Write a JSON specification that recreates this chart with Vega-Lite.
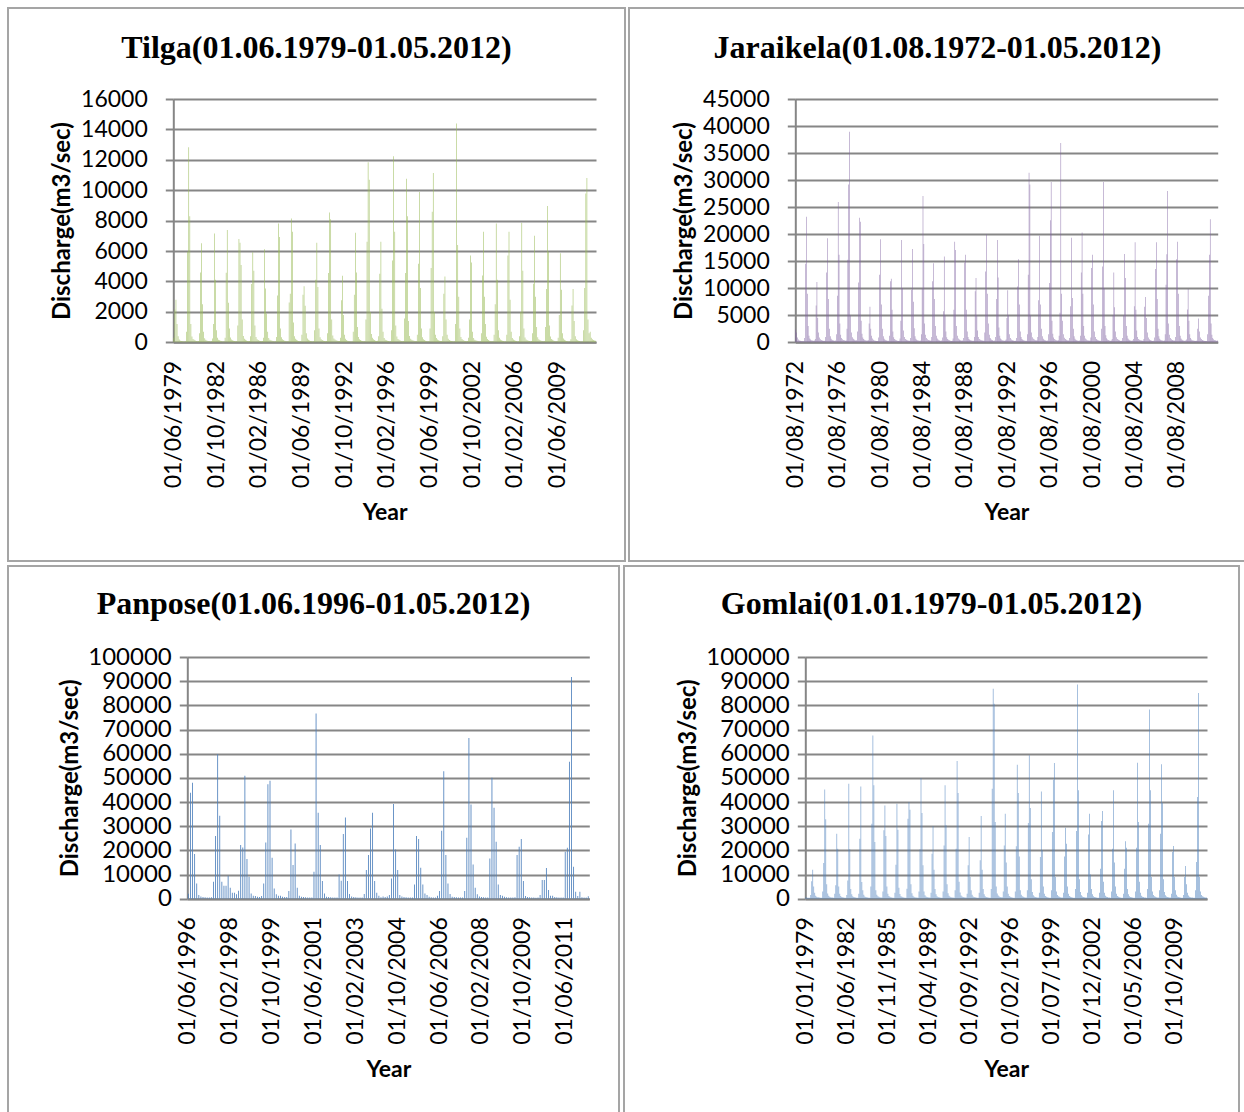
{
  "$schema": "https://vega.github.io/schema/vega-lite/v6.json",
  "background": "white",
  "padding": {"left": 7, "top": 7, "right": 0, "bottom": 0},
  "spacing": 3,
  "config": {
    "view": {"stroke": "#a5a5a5", "strokeWidth": 2},
    "title": {"font": "Liberation Serif", "fontSize": 32, "fontWeight": "bold", "color": "#000000", "anchor": "middle", "baseline": "middle", "offset": -57},
    "axis": {"labelFont": "Lato", "labelFontSize": 23, "labelColor": "#000000", "titleFont": "Lato", "titleFontSize": 23, "titleFontWeight": "bold", "titleColor": "#000000", "domainColor": "#868686", "domainWidth": 2, "tickColor": "#868686", "tickWidth": 2, "gridColor": "#868686", "gridWidth": 2, "labelOverlap": false, "labelBound": false, "labelFlush": false},
    "axisX": {"labelAngle": -90, "labelAlign": "right", "labelBaseline": "middle", "ticks": false, "grid": false, "labelPadding": 18, "titlePadding": 14},
    "axisY": {"tickSize": 8, "labelPadding": 18, "titlePadding": 6, "grid": true, "format": "d", "titleFontSize": 24}
  },
  "datasets": {
    "tilga": [
      {"d":"1979-06","q":300},{"d":"1979-07","q":2150},{"d":"1979-08","q":2800},{"d":"1979-09","q":1200},{"d":"1979-10","q":400},{"d":"1979-11","q":180},{"d":"1979-12","q":110},{"d":"1980-01","q":90},{"d":"1980-02","q":70},{"d":"1980-03","q":60},{"d":"1980-04","q":50},{"d":"1980-05","q":70},
      {"d":"1980-06","q":700},{"d":"1980-07","q":5960},{"d":"1980-08","q":12820},{"d":"1980-09","q":8290},{"d":"1980-10","q":1200},{"d":"1980-11","q":380},{"d":"1980-12","q":220},{"d":"1981-01","q":160},{"d":"1981-02","q":120},{"d":"1981-03","q":90},{"d":"1981-04","q":70},{"d":"1981-05","q":90},
      {"d":"1981-06","q":600},{"d":"1981-07","q":4590},{"d":"1981-08","q":6510},{"d":"1981-09","q":2500},{"d":"1981-10","q":700},{"d":"1981-11","q":260},{"d":"1981-12","q":160},{"d":"1982-01","q":120},{"d":"1982-02","q":90},{"d":"1982-03","q":80},{"d":"1982-04","q":60},{"d":"1982-05","q":80},
      {"d":"1982-06","q":250},{"d":"1982-07","q":1200},{"d":"1982-08","q":7160},{"d":"1982-09","q":4110},{"d":"1982-10","q":800},{"d":"1982-11","q":300},{"d":"1982-12","q":170},{"d":"1983-01","q":130},{"d":"1983-02","q":100},{"d":"1983-03","q":80},{"d":"1983-04","q":60},{"d":"1983-05","q":70},
      {"d":"1983-06","q":300},{"d":"1983-07","q":4570},{"d":"1983-08","q":7380},{"d":"1983-09","q":2600},{"d":"1983-10","q":900},{"d":"1983-11","q":320},{"d":"1983-12","q":190},{"d":"1984-01","q":140},{"d":"1984-02","q":100},{"d":"1984-03","q":80},{"d":"1984-04","q":70},{"d":"1984-05","q":90},
      {"d":"1984-06","q":1100},{"d":"1984-07","q":6790},{"d":"1984-08","q":6550},{"d":"1984-09","q":5090},{"d":"1984-10","q":1500},{"d":"1984-11","q":420},{"d":"1984-12","q":230},{"d":"1985-01","q":160},{"d":"1985-02","q":120},{"d":"1985-03","q":90},{"d":"1985-04","q":70},{"d":"1985-05","q":80},
      {"d":"1985-06","q":400},{"d":"1985-07","q":3830},{"d":"1985-08","q":5920},{"d":"1985-09","q":4700},{"d":"1985-10","q":1100},{"d":"1985-11","q":350},{"d":"1985-12","q":200},{"d":"1986-01","q":150},{"d":"1986-02","q":110},{"d":"1986-03","q":90},{"d":"1986-04","q":70},{"d":"1986-05","q":80},
      {"d":"1986-06","q":300},{"d":"1986-07","q":6120},{"d":"1986-08","q":3530},{"d":"1986-09","q":1900},{"d":"1986-10","q":700},{"d":"1986-11","q":280},{"d":"1986-12","q":170},{"d":"1987-01","q":130},{"d":"1987-02","q":100},{"d":"1987-03","q":80},{"d":"1987-04","q":60},{"d":"1987-05","q":70},
      {"d":"1987-06","q":350},{"d":"1987-07","q":3070},{"d":"1987-08","q":7810},{"d":"1987-09","q":6920},{"d":"1987-10","q":900},{"d":"1987-11","q":330},{"d":"1987-12","q":200},{"d":"1988-01","q":150},{"d":"1988-02","q":110},{"d":"1988-03","q":90},{"d":"1988-04","q":70},{"d":"1988-05","q":90},
      {"d":"1988-06","q":2610},{"d":"1988-07","q":3200},{"d":"1988-08","q":8140},{"d":"1988-09","q":7270},{"d":"1988-10","q":1300},{"d":"1988-11","q":400},{"d":"1988-12","q":230},{"d":"1989-01","q":170},{"d":"1989-02","q":120},{"d":"1989-03","q":90},{"d":"1989-04","q":70},{"d":"1989-05","q":80},
      {"d":"1989-06","q":500},{"d":"1989-07","q":3130},{"d":"1989-08","q":3680},{"d":"1989-09","q":2400},{"d":"1989-10","q":600},{"d":"1989-11","q":250},{"d":"1989-12","q":160},{"d":"1990-01","q":120},{"d":"1990-02","q":90},{"d":"1990-03","q":70},{"d":"1990-04","q":60},{"d":"1990-05","q":70},
      {"d":"1990-06","q":800},{"d":"1990-07","q":4110},{"d":"1990-08","q":6550},{"d":"1990-09","q":3630},{"d":"1990-10","q":900},{"d":"1990-11","q":330},{"d":"1990-12","q":200},{"d":"1991-01","q":150},{"d":"1991-02","q":110},{"d":"1991-03","q":90},{"d":"1991-04","q":70},{"d":"1991-05","q":80},
      {"d":"1991-06","q":600},{"d":"1991-07","q":4550},{"d":"1991-08","q":8530},{"d":"1991-09","q":8090},{"d":"1991-10","q":1500},{"d":"1991-11","q":450},{"d":"1991-12","q":250},{"d":"1992-01","q":180},{"d":"1992-02","q":130},{"d":"1992-03","q":100},{"d":"1992-04","q":80},{"d":"1992-05","q":90},
      {"d":"1992-06","q":300},{"d":"1992-07","q":2760},{"d":"1992-08","q":4370},{"d":"1992-09","q":1800},{"d":"1992-10","q":500},{"d":"1992-11","q":230},{"d":"1992-12","q":150},{"d":"1993-01","q":110},{"d":"1993-02","q":90},{"d":"1993-03","q":70},{"d":"1993-04","q":60},{"d":"1993-05","q":70},
      {"d":"1993-06","q":700},{"d":"1993-07","q":3130},{"d":"1993-08","q":7200},{"d":"1993-09","q":4590},{"d":"1993-10","q":1000},{"d":"1993-11","q":350},{"d":"1993-12","q":200},{"d":"1994-01","q":150},{"d":"1994-02","q":110},{"d":"1994-03","q":90},{"d":"1994-04","q":70},{"d":"1994-05","q":90},
      {"d":"1994-06","q":1500},{"d":"1994-07","q":6620},{"d":"1994-08","q":11840},{"d":"1994-09","q":10690},{"d":"1994-10","q":2000},{"d":"1994-11","q":550},{"d":"1994-12","q":300},{"d":"1995-01","q":200},{"d":"1995-02","q":150},{"d":"1995-03","q":110},{"d":"1995-04","q":90},{"d":"1995-05","q":100},
      {"d":"1995-06","q":400},{"d":"1995-07","q":4500},{"d":"1995-08","q":6620},{"d":"1995-09","q":2200},{"d":"1995-10","q":700},{"d":"1995-11","q":280},{"d":"1995-12","q":170},{"d":"1996-01","q":130},{"d":"1996-02","q":100},{"d":"1996-03","q":80},{"d":"1996-04","q":60},{"d":"1996-05","q":70},
      {"d":"1996-06","q":800},{"d":"1996-07","q":5380},{"d":"1996-08","q":12230},{"d":"1996-09","q":7270},{"d":"1996-10","q":1100},{"d":"1996-11","q":380},{"d":"1996-12","q":220},{"d":"1997-01","q":160},{"d":"1997-02","q":120},{"d":"1997-03","q":90},{"d":"1997-04","q":70},{"d":"1997-05","q":90},
      {"d":"1997-06","q":1570},{"d":"1997-07","q":4550},{"d":"1997-08","q":10750},{"d":"1997-09","q":8290},{"d":"1997-10","q":1400},{"d":"1997-11","q":420},{"d":"1997-12","q":240},{"d":"1998-01","q":170},{"d":"1998-02","q":130},{"d":"1998-03","q":100},{"d":"1998-04","q":80},{"d":"1998-05","q":90},
      {"d":"1998-06","q":500},{"d":"1998-07","q":5160},{"d":"1998-08","q":9880},{"d":"1998-09","q":3570},{"d":"1998-10","q":900},{"d":"1998-11","q":330},{"d":"1998-12","q":200},{"d":"1999-01","q":150},{"d":"1999-02","q":110},{"d":"1999-03","q":90},{"d":"1999-04","q":70},{"d":"1999-05","q":80},
      {"d":"1999-06","q":900},{"d":"1999-07","q":4880},{"d":"1999-08","q":8580},{"d":"1999-09","q":11140},{"d":"1999-10","q":2000},{"d":"1999-11","q":500},{"d":"1999-12","q":280},{"d":"2000-01","q":190},{"d":"2000-02","q":140},{"d":"2000-03","q":100},{"d":"2000-04","q":80},{"d":"2000-05","q":90},
      {"d":"2000-06","q":400},{"d":"2000-07","q":3200},{"d":"2000-08","q":4330},{"d":"2000-09","q":1500},{"d":"2000-10","q":500},{"d":"2000-11","q":240},{"d":"2000-12","q":150},{"d":"2001-01","q":110},{"d":"2001-02","q":90},{"d":"2001-03","q":70},{"d":"2001-04","q":60},{"d":"2001-05","q":70},
      {"d":"2001-06","q":1200},{"d":"2001-07","q":14390},{"d":"2001-08","q":6400},{"d":"2001-09","q":3000},{"d":"2001-10","q":900},{"d":"2001-11","q":350},{"d":"2001-12","q":210},{"d":"2002-01","q":150},{"d":"2002-02","q":110},{"d":"2002-03","q":90},{"d":"2002-04","q":70},{"d":"2002-05","q":80},
      {"d":"2002-06","q":300},{"d":"2002-07","q":1500},{"d":"2002-08","q":5700},{"d":"2002-09","q":5240},{"d":"2002-10","q":700},{"d":"2002-11","q":280},{"d":"2002-12","q":170},{"d":"2003-01","q":130},{"d":"2003-02","q":100},{"d":"2003-03","q":80},{"d":"2003-04","q":60},{"d":"2003-05","q":70},
      {"d":"2003-06","q":600},{"d":"2003-07","q":4400},{"d":"2003-08","q":7270},{"d":"2003-09","q":3000},{"d":"2003-10","q":1200},{"d":"2003-11","q":360},{"d":"2003-12","q":210},{"d":"2004-01","q":150},{"d":"2004-02","q":110},{"d":"2004-03","q":90},{"d":"2004-04","q":70},{"d":"2004-05","q":80},
      {"d":"2004-06","q":500},{"d":"2004-07","q":2500},{"d":"2004-08","q":7810},{"d":"2004-09","q":4110},{"d":"2004-10","q":800},{"d":"2004-11","q":300},{"d":"2004-12","q":180},{"d":"2005-01","q":130},{"d":"2005-02","q":100},{"d":"2005-03","q":80},{"d":"2005-04","q":60},{"d":"2005-05","q":70},
      {"d":"2005-06","q":500},{"d":"2005-07","q":5700},{"d":"2005-08","q":7270},{"d":"2005-09","q":2800},{"d":"2005-10","q":700},{"d":"2005-11","q":290},{"d":"2005-12","q":180},{"d":"2006-01","q":130},{"d":"2006-02","q":100},{"d":"2006-03","q":80},{"d":"2006-04","q":60},{"d":"2006-05","q":70},
      {"d":"2006-06","q":400},{"d":"2006-07","q":2000},{"d":"2006-08","q":7860},{"d":"2006-09","q":4700},{"d":"2006-10","q":900},{"d":"2006-11","q":320},{"d":"2006-12","q":190},{"d":"2007-01","q":140},{"d":"2007-02","q":100},{"d":"2007-03","q":80},{"d":"2007-04","q":60},{"d":"2007-05","q":80},
      {"d":"2007-06","q":600},{"d":"2007-07","q":3850},{"d":"2007-08","q":7010},{"d":"2007-09","q":3000},{"d":"2007-10","q":1000},{"d":"2007-11","q":340},{"d":"2007-12","q":200},{"d":"2008-01","q":150},{"d":"2008-02","q":110},{"d":"2008-03","q":90},{"d":"2008-04","q":70},{"d":"2008-05","q":80},
      {"d":"2008-06","q":1000},{"d":"2008-07","q":3500},{"d":"2008-08","q":8970},{"d":"2008-09","q":5960},{"d":"2008-10","q":1100},{"d":"2008-11","q":380},{"d":"2008-12","q":220},{"d":"2009-01","q":160},{"d":"2009-02","q":120},{"d":"2009-03","q":90},{"d":"2009-04","q":70},{"d":"2009-05","q":80},
      {"d":"2009-06","q":300},{"d":"2009-07","q":1800},{"d":"2009-08","q":5860},{"d":"2009-09","q":3460},{"d":"2009-10","q":600},{"d":"2009-11","q":250},{"d":"2009-12","q":160},{"d":"2010-01","q":120},{"d":"2010-02","q":90},{"d":"2010-03","q":70},{"d":"2010-04","q":60},{"d":"2010-05","q":70},
      {"d":"2010-06","q":200},{"d":"2010-07","q":2420},{"d":"2010-08","q":3510},{"d":"2010-09","q":1400},{"d":"2010-10","q":400},{"d":"2010-11","q":200},{"d":"2010-12","q":130},{"d":"2011-01","q":100},{"d":"2011-02","q":80},{"d":"2011-03","q":60},{"d":"2011-04","q":50},{"d":"2011-05","q":60},
      {"d":"2011-06","q":800},{"d":"2011-07","q":3570},{"d":"2011-08","q":9780},{"d":"2011-09","q":10800},{"d":"2011-10","q":1500},{"d":"2011-11","q":600},{"d":"2011-12","q":700},{"d":"2012-01","q":300},{"d":"2012-02","q":200},{"d":"2012-03","q":150},{"d":"2012-04","q":120},{"d":"2012-05","q":100}
    ],
    "jaraikela": [
      {"d":"1972-08","q":2390},{"d":"1972-09","q":1800},{"d":"1972-10","q":900},{"d":"1972-11","q":500},{"d":"1972-12","q":350},{"d":"1973-01","q":280},{"d":"1973-02","q":230},{"d":"1973-03","q":200},{"d":"1973-04","q":180},{"d":"1973-05","q":200},
      {"d":"1973-06","q":800},{"d":"1973-07","q":14510},{"d":"1973-08","q":23200},{"d":"1973-09","q":9000},{"d":"1973-10","q":3000},{"d":"1973-11","q":1200},{"d":"1973-12","q":700},{"d":"1974-01","q":500},{"d":"1974-02","q":400},{"d":"1974-03","q":350},{"d":"1974-04","q":300},{"d":"1974-05","q":350},
      {"d":"1974-06","q":600},{"d":"1974-07","q":6800},{"d":"1974-08","q":11150},{"d":"1974-09","q":4500},{"d":"1974-10","q":1800},{"d":"1974-11","q":900},{"d":"1974-12","q":550},{"d":"1975-01","q":420},{"d":"1975-02","q":350},{"d":"1975-03","q":300},{"d":"1975-04","q":260},{"d":"1975-05","q":300},
      {"d":"1975-06","q":1000},{"d":"1975-07","q":12920},{"d":"1975-08","q":19230},{"d":"1975-09","q":8000},{"d":"1975-10","q":2500},{"d":"1975-11","q":1100},{"d":"1975-12","q":650},{"d":"1976-01","q":480},{"d":"1976-02","q":380},{"d":"1976-03","q":320},{"d":"1976-04","q":280},{"d":"1976-05","q":320},
      {"d":"1976-06","q":1500},{"d":"1976-07","q":8630},{"d":"1976-08","q":25960},{"d":"1976-09","q":16170},{"d":"1976-10","q":3500},{"d":"1976-11","q":1400},{"d":"1976-12","q":800},{"d":"1977-01","q":560},{"d":"1977-02","q":440},{"d":"1977-03","q":360},{"d":"1977-04","q":300},{"d":"1977-05","q":350},
      {"d":"1977-06","q":2500},{"d":"1977-07","q":15250},{"d":"1977-08","q":29200},{"d":"1977-09","q":38940},{"d":"1977-10","q":5000},{"d":"1977-11","q":1800},{"d":"1977-12","q":950},{"d":"1978-01","q":650},{"d":"1978-02","q":500},{"d":"1978-03","q":400},{"d":"1978-04","q":340},{"d":"1978-05","q":400},
      {"d":"1978-06","q":2000},{"d":"1978-07","q":11080},{"d":"1978-08","q":23020},{"d":"1978-09","q":22290},{"d":"1978-10","q":4000},{"d":"1978-11","q":1600},{"d":"1978-12","q":900},{"d":"1979-01","q":620},{"d":"1979-02","q":480},{"d":"1979-03","q":380},{"d":"1979-04","q":320},{"d":"1979-05","q":350},
      {"d":"1979-06","q":400},{"d":"1979-07","q":3500},{"d":"1979-08","q":6560},{"d":"1979-09","q":2500},{"d":"1979-10","q":1200},{"d":"1979-11","q":700},{"d":"1979-12","q":450},{"d":"1980-01","q":350},{"d":"1980-02","q":300},{"d":"1980-03","q":250},{"d":"1980-04","q":220},{"d":"1980-05","q":250},
      {"d":"1980-06","q":900},{"d":"1980-07","q":12490},{"d":"1980-08","q":19050},{"d":"1980-09","q":7000},{"d":"1980-10","q":2500},{"d":"1980-11","q":1100},{"d":"1980-12","q":650},{"d":"1981-01","q":480},{"d":"1981-02","q":380},{"d":"1981-03","q":320},{"d":"1981-04","q":280},{"d":"1981-05","q":300},
      {"d":"1981-06","q":1200},{"d":"1981-07","q":11270},{"d":"1981-08","q":11760},{"d":"1981-09","q":6000},{"d":"1981-10","q":2000},{"d":"1981-11","q":950},{"d":"1981-12","q":600},{"d":"1982-01","q":450},{"d":"1982-02","q":360},{"d":"1982-03","q":300},{"d":"1982-04","q":260},{"d":"1982-05","q":300},
      {"d":"1982-06","q":700},{"d":"1982-07","q":4000},{"d":"1982-08","q":18920},{"d":"1982-09","q":10050},{"d":"1982-10","q":2200},{"d":"1982-11","q":1000},{"d":"1982-12","q":620},{"d":"1983-01","q":460},{"d":"1983-02","q":370},{"d":"1983-03","q":310},{"d":"1983-04","q":270},{"d":"1983-05","q":300},
      {"d":"1983-06","q":800},{"d":"1983-07","q":9740},{"d":"1983-08","q":17270},{"d":"1983-09","q":7500},{"d":"1983-10","q":2600},{"d":"1983-11","q":1100},{"d":"1983-12","q":650},{"d":"1984-01","q":480},{"d":"1984-02","q":380},{"d":"1984-03","q":320},{"d":"1984-04","q":280},{"d":"1984-05","q":320},
      {"d":"1984-06","q":1500},{"d":"1984-07","q":9920},{"d":"1984-08","q":27060},{"d":"1984-09","q":18190},{"d":"1984-10","q":3500},{"d":"1984-11","q":1400},{"d":"1984-12","q":800},{"d":"1985-01","q":560},{"d":"1985-02","q":440},{"d":"1985-03","q":360},{"d":"1985-04","q":300},{"d":"1985-05","q":340},
      {"d":"1985-06","q":1000},{"d":"1985-07","q":11270},{"d":"1985-08","q":14640},{"d":"1985-09","q":8000},{"d":"1985-10","q":3000},{"d":"1985-11","q":1200},{"d":"1985-12","q":700},{"d":"1986-01","q":500},{"d":"1986-02","q":400},{"d":"1986-03","q":330},{"d":"1986-04","q":290},{"d":"1986-05","q":320},
      {"d":"1986-06","q":900},{"d":"1986-07","q":5750},{"d":"1986-08","q":15850},{"d":"1986-09","q":5000},{"d":"1986-10","q":2000},{"d":"1986-11","q":950},{"d":"1986-12","q":600},{"d":"1987-01","q":450},{"d":"1987-02","q":360},{"d":"1987-03","q":300},{"d":"1987-04","q":260},{"d":"1987-05","q":290},
      {"d":"1987-06","q":700},{"d":"1987-07","q":6000},{"d":"1987-08","q":18610},{"d":"1987-09","q":17080},{"d":"1987-10","q":3000},{"d":"1987-11","q":1200},{"d":"1987-12","q":700},{"d":"1988-01","q":500},{"d":"1988-02","q":400},{"d":"1988-03","q":330},{"d":"1988-04","q":290},{"d":"1988-05","q":320},
      {"d":"1988-06","q":800},{"d":"1988-07","q":14750},{"d":"1988-08","q":16170},{"d":"1988-09","q":6000},{"d":"1988-10","q":2000},{"d":"1988-11","q":1000},{"d":"1988-12","q":620},{"d":"1989-01","q":460},{"d":"1989-02","q":370},{"d":"1989-03","q":310},{"d":"1989-04","q":270},{"d":"1989-05","q":300},
      {"d":"1989-06","q":1000},{"d":"1989-07","q":9420},{"d":"1989-08","q":11880},{"d":"1989-09","q":5000},{"d":"1989-10","q":2200},{"d":"1989-11","q":1000},{"d":"1989-12","q":620},{"d":"1990-01","q":460},{"d":"1990-02","q":370},{"d":"1990-03","q":310},{"d":"1990-04","q":270},{"d":"1990-05","q":300},
      {"d":"1990-06","q":1800},{"d":"1990-07","q":13100},{"d":"1990-08","q":19970},{"d":"1990-09","q":9000},{"d":"1990-10","q":3500},{"d":"1990-11","q":1400},{"d":"1990-12","q":800},{"d":"1991-01","q":560},{"d":"1991-02","q":440},{"d":"1991-03","q":360},{"d":"1991-04","q":300},{"d":"1991-05","q":340},
      {"d":"1991-06","q":1000},{"d":"1991-07","q":8000},{"d":"1991-08","q":18920},{"d":"1991-09","q":12000},{"d":"1991-10","q":2760},{"d":"1991-11","q":1200},{"d":"1991-12","q":700},{"d":"1992-01","q":500},{"d":"1992-02","q":400},{"d":"1992-03","q":330},{"d":"1992-04","q":290},{"d":"1992-05","q":320},
      {"d":"1992-06","q":500},{"d":"1992-07","q":4500},{"d":"1992-08","q":9610},{"d":"1992-09","q":5000},{"d":"1992-10","q":1500},{"d":"1992-11","q":800},{"d":"1992-12","q":520},{"d":"1993-01","q":400},{"d":"1993-02","q":330},{"d":"1993-03","q":280},{"d":"1993-04","q":250},{"d":"1993-05","q":280},
      {"d":"1993-06","q":800},{"d":"1993-07","q":10340},{"d":"1993-08","q":15380},{"d":"1993-09","q":7000},{"d":"1993-10","q":2000},{"d":"1993-11","q":1000},{"d":"1993-12","q":620},{"d":"1994-01","q":460},{"d":"1994-02","q":370},{"d":"1994-03","q":310},{"d":"1994-04","q":270},{"d":"1994-05","q":300},
      {"d":"1994-06","q":1500},{"d":"1994-07","q":12490},{"d":"1994-08","q":31360},{"d":"1994-09","q":29200},{"d":"1994-10","q":5000},{"d":"1994-11","q":1800},{"d":"1994-12","q":950},{"d":"1995-01","q":650},{"d":"1995-02","q":500},{"d":"1995-03","q":400},{"d":"1995-04","q":340},{"d":"1995-05","q":380},
      {"d":"1995-06","q":1000},{"d":"1995-07","q":7770},{"d":"1995-08","q":19710},{"d":"1995-09","q":7000},{"d":"1995-10","q":2500},{"d":"1995-11","q":1100},{"d":"1995-12","q":650},{"d":"1996-01","q":480},{"d":"1996-02","q":380},{"d":"1996-03","q":320},{"d":"1996-04","q":280},{"d":"1996-05","q":310},
      {"d":"1996-06","q":1500},{"d":"1996-07","q":10960},{"d":"1996-08","q":22590},{"d":"1996-09","q":29630},{"d":"1996-10","q":4000},{"d":"1996-11","q":1600},{"d":"1996-12","q":900},{"d":"1997-01","q":620},{"d":"1997-02","q":480},{"d":"1997-03","q":380},{"d":"1997-04","q":320},{"d":"1997-05","q":360},
      {"d":"1997-06","q":1200},{"d":"1997-07","q":5450},{"d":"1997-08","q":36870},{"d":"1997-09","q":9000},{"d":"1997-10","q":4000},{"d":"1997-11","q":1500},{"d":"1997-12","q":850},{"d":"1998-01","q":600},{"d":"1998-02","q":460},{"d":"1998-03","q":370},{"d":"1998-04","q":310},{"d":"1998-05","q":350},
      {"d":"1998-06","q":800},{"d":"1998-07","q":6670},{"d":"1998-08","q":19350},{"d":"1998-09","q":8210},{"d":"1998-10","q":2500},{"d":"1998-11","q":1100},{"d":"1998-12","q":650},{"d":"1999-01","q":480},{"d":"1999-02","q":380},{"d":"1999-03","q":320},{"d":"1999-04","q":280},{"d":"1999-05","q":310},
      {"d":"1999-06","q":1200},{"d":"1999-07","q":12920},{"d":"1999-08","q":20330},{"d":"1999-09","q":9000},{"d":"1999-10","q":3000},{"d":"1999-11","q":1200},{"d":"1999-12","q":700},{"d":"2000-01","q":500},{"d":"2000-02","q":400},{"d":"2000-03","q":330},{"d":"2000-04","q":290},{"d":"2000-05","q":320},
      {"d":"2000-06","q":900},{"d":"2000-07","q":13720},{"d":"2000-08","q":16170},{"d":"2000-09","q":7000},{"d":"2000-10","q":2000},{"d":"2000-11","q":1000},{"d":"2000-12","q":620},{"d":"2001-01","q":460},{"d":"2001-02","q":370},{"d":"2001-03","q":310},{"d":"2001-04","q":270},{"d":"2001-05","q":300},
      {"d":"2001-06","q":2500},{"d":"2001-07","q":14020},{"d":"2001-08","q":29630},{"d":"2001-09","q":10000},{"d":"2001-10","q":3000},{"d":"2001-11","q":1300},{"d":"2001-12","q":750},{"d":"2002-01","q":530},{"d":"2002-02","q":420},{"d":"2002-03","q":340},{"d":"2002-04","q":300},{"d":"2002-05","q":330},
      {"d":"2002-06","q":600},{"d":"2002-07","q":5000},{"d":"2002-08","q":12920},{"d":"2002-09","q":6500},{"d":"2002-10","q":2000},{"d":"2002-11","q":950},{"d":"2002-12","q":600},{"d":"2003-01","q":450},{"d":"2003-02","q":360},{"d":"2003-03","q":300},{"d":"2003-04","q":260},{"d":"2003-05","q":290},
      {"d":"2003-06","q":800},{"d":"2003-07","q":5000},{"d":"2003-08","q":16350},{"d":"2003-09","q":11880},{"d":"2003-10","q":3000},{"d":"2003-11","q":1200},{"d":"2003-12","q":700},{"d":"2004-01","q":500},{"d":"2004-02","q":400},{"d":"2004-03","q":330},{"d":"2004-04","q":290},{"d":"2004-05","q":320},
      {"d":"2004-06","q":600},{"d":"2004-07","q":6670},{"d":"2004-08","q":18500},{"d":"2004-09","q":6000},{"d":"2004-10","q":2200},{"d":"2004-11","q":1000},{"d":"2004-12","q":620},{"d":"2005-01","q":460},{"d":"2005-02","q":370},{"d":"2005-03","q":310},{"d":"2005-04","q":270},{"d":"2005-05","q":300},
      {"d":"2005-06","q":600},{"d":"2005-07","q":6560},{"d":"2005-08","q":8400},{"d":"2005-09","q":4500},{"d":"2005-10","q":1800},{"d":"2005-11","q":900},{"d":"2005-12","q":560},{"d":"2006-01","q":420},{"d":"2006-02","q":350},{"d":"2006-03","q":300},{"d":"2006-04","q":260},{"d":"2006-05","q":290},
      {"d":"2006-06","q":900},{"d":"2006-07","q":13540},{"d":"2006-08","q":18500},{"d":"2006-09","q":8000},{"d":"2006-10","q":2500},{"d":"2006-11","q":1100},{"d":"2006-12","q":650},{"d":"2007-01","q":480},{"d":"2007-02","q":380},{"d":"2007-03","q":320},{"d":"2007-04","q":280},{"d":"2007-05","q":310},
      {"d":"2007-06","q":1500},{"d":"2007-07","q":10650},{"d":"2007-08","q":16290},{"d":"2007-09","q":27980},{"d":"2007-10","q":3500},{"d":"2007-11","q":1400},{"d":"2007-12","q":800},{"d":"2008-01","q":560},{"d":"2008-02","q":440},{"d":"2008-03","q":360},{"d":"2008-04","q":300},{"d":"2008-05","q":340},
      {"d":"2008-06","q":1000},{"d":"2008-07","q":15380},{"d":"2008-08","q":18610},{"d":"2008-09","q":9000},{"d":"2008-10","q":3000},{"d":"2008-11","q":1200},{"d":"2008-12","q":700},{"d":"2009-01","q":500},{"d":"2009-02","q":400},{"d":"2009-03","q":330},{"d":"2009-04","q":290},{"d":"2009-05","q":320},
      {"d":"2009-06","q":500},{"d":"2009-07","q":6060},{"d":"2009-08","q":9860},{"d":"2009-09","q":4000},{"d":"2009-10","q":1500},{"d":"2009-11","q":800},{"d":"2009-12","q":520},{"d":"2010-01","q":400},{"d":"2010-02","q":330},{"d":"2010-03","q":280},{"d":"2010-04","q":250},{"d":"2010-05","q":280},
      {"d":"2010-06","q":300},{"d":"2010-07","q":2500},{"d":"2010-08","q":4410},{"d":"2010-09","q":2000},{"d":"2010-10","q":900},{"d":"2010-11","q":600},{"d":"2010-12","q":420},{"d":"2011-01","q":330},{"d":"2011-02","q":280},{"d":"2011-03","q":240},{"d":"2011-04","q":220},{"d":"2011-05","q":250},
      {"d":"2011-06","q":1500},{"d":"2011-07","q":8630},{"d":"2011-08","q":16170},{"d":"2011-09","q":22780},{"d":"2011-10","q":3500},{"d":"2011-11","q":1400},{"d":"2011-12","q":800},{"d":"2012-01","q":560},{"d":"2012-02","q":440},{"d":"2012-03","q":360},{"d":"2012-04","q":300},{"d":"2012-05","q":340}
    ],
    "panpose": [
      {"d":"1996-06","q":2000},{"d":"1996-07","q":43800},{"d":"1996-08","q":47930},{"d":"1996-09","q":18460},{"d":"1996-10","q":6340},{"d":"1996-11","q":1510},{"d":"1996-12","q":900},{"d":"1997-01","q":700},{"d":"1997-02","q":600},{"d":"1997-03","q":500},{"d":"1997-04","q":450},{"d":"1997-05","q":600},
      {"d":"1997-06","q":7020},{"d":"1997-07","q":25900},{"d":"1997-08","q":59780},{"d":"1997-09","q":34290},{"d":"1997-10","q":7020},{"d":"1997-11","q":5370},{"d":"1997-12","q":5370},{"d":"1998-01","q":9500},{"d":"1998-02","q":4550},{"d":"1998-03","q":2480},{"d":"1998-04","q":2480},{"d":"1998-05","q":1790},
      {"d":"1998-06","q":3300},{"d":"1998-07","q":22180},{"d":"1998-08","q":21200},{"d":"1998-09","q":50820},{"d":"1998-10","q":16400},{"d":"1998-11","q":9090},{"d":"1998-12","q":2200},{"d":"1999-01","q":1240},{"d":"1999-02","q":1100},{"d":"1999-03","q":830},{"d":"1999-04","q":700},{"d":"1999-05","q":1100},
      {"d":"1999-06","q":6340},{"d":"1999-07","q":23270},{"d":"1999-08","q":47380},{"d":"1999-09","q":48760},{"d":"1999-10","q":16940},{"d":"1999-11","q":4270},{"d":"1999-12","q":1790},{"d":"2000-01","q":1240},{"d":"2000-02","q":1240},{"d":"2000-03","q":800},{"d":"2000-04","q":700},{"d":"2000-05","q":700},
      {"d":"2000-06","q":3170},{"d":"2000-07","q":28640},{"d":"2000-08","q":13920},{"d":"2000-09","q":22870},{"d":"2000-10","q":4550},{"d":"2000-11","q":1240},{"d":"2000-12","q":800},{"d":"2001-01","q":700},{"d":"2001-02","q":600},{"d":"2001-03","q":500},{"d":"2001-04","q":450},{"d":"2001-05","q":500},
      {"d":"2001-06","q":11160},{"d":"2001-07","q":76580},{"d":"2001-08","q":35540},{"d":"2001-09","q":22180},{"d":"2001-10","q":7300},{"d":"2001-11","q":2200},{"d":"2001-12","q":830},{"d":"2002-01","q":700},{"d":"2002-02","q":600},{"d":"2002-03","q":500},{"d":"2002-04","q":450},{"d":"2002-05","q":500},
      {"d":"2002-06","q":10050},{"d":"2002-07","q":7440},{"d":"2002-08","q":26730},{"d":"2002-09","q":33600},{"d":"2002-10","q":7300},{"d":"2002-11","q":1940},{"d":"2002-12","q":960},{"d":"2003-01","q":700},{"d":"2003-02","q":600},{"d":"2003-03","q":500},{"d":"2003-04","q":450},{"d":"2003-05","q":500},
      {"d":"2003-06","q":1940},{"d":"2003-07","q":11860},{"d":"2003-08","q":18060},{"d":"2003-09","q":29050},{"d":"2003-10","q":35540},{"d":"2003-11","q":7300},{"d":"2003-12","q":2480},{"d":"2004-01","q":1240},{"d":"2004-02","q":600},{"d":"2004-03","q":900},{"d":"2004-04","q":700},{"d":"2004-05","q":900},
      {"d":"2004-06","q":1510},{"d":"2004-07","q":8400},{"d":"2004-08","q":39130},{"d":"2004-09","q":20380},{"d":"2004-10","q":11860},{"d":"2004-11","q":1510},{"d":"2004-12","q":900},{"d":"2005-01","q":700},{"d":"2005-02","q":600},{"d":"2005-03","q":500},{"d":"2005-04","q":450},{"d":"2005-05","q":500},
      {"d":"2005-06","q":5910},{"d":"2005-07","q":25900},{"d":"2005-08","q":24670},{"d":"2005-09","q":12810},{"d":"2005-10","q":5910},{"d":"2005-11","q":2200},{"d":"2005-12","q":1510},{"d":"2006-01","q":800},{"d":"2006-02","q":600},{"d":"2006-03","q":500},{"d":"2006-04","q":450},{"d":"2006-05","q":1240},
      {"d":"2006-06","q":3170},{"d":"2006-07","q":28100},{"d":"2006-08","q":52760},{"d":"2006-09","q":18060},{"d":"2006-10","q":6340},{"d":"2006-11","q":1940},{"d":"2006-12","q":800},{"d":"2007-01","q":700},{"d":"2007-02","q":600},{"d":"2007-03","q":500},{"d":"2007-04","q":450},{"d":"2007-05","q":500},
      {"d":"2007-06","q":3170},{"d":"2007-07","q":25200},{"d":"2007-08","q":66530},{"d":"2007-09","q":38970},{"d":"2007-10","q":14170},{"d":"2007-11","q":4550},{"d":"2007-12","q":1790},{"d":"2008-01","q":900},{"d":"2008-02","q":700},{"d":"2008-03","q":600},{"d":"2008-04","q":500},{"d":"2008-05","q":500},
      {"d":"2008-06","q":16670},{"d":"2008-07","q":50000},{"d":"2008-08","q":37600},{"d":"2008-09","q":23550},{"d":"2008-10","q":5910},{"d":"2008-11","q":1510},{"d":"2008-12","q":1240},{"d":"2009-01","q":800},{"d":"2009-02","q":600},{"d":"2009-03","q":500},{"d":"2009-04","q":450},{"d":"2009-05","q":500},
      {"d":"2009-06","q":600},{"d":"2009-07","q":18060},{"d":"2009-08","q":21490},{"d":"2009-09","q":24670},{"d":"2009-10","q":7300},{"d":"2009-11","q":1100},{"d":"2009-12","q":700},{"d":"2010-01","q":600},{"d":"2010-02","q":500},{"d":"2010-03","q":450},{"d":"2010-04","q":400},{"d":"2010-05","q":500},
      {"d":"2010-06","q":1510},{"d":"2010-07","q":7710},{"d":"2010-08","q":7710},{"d":"2010-09","q":12670},{"d":"2010-10","q":3580},{"d":"2010-11","q":1240},{"d":"2010-12","q":1240},{"d":"2011-01","q":700},{"d":"2011-02","q":600},{"d":"2011-03","q":500},{"d":"2011-04","q":450},{"d":"2011-05","q":500},
      {"d":"2011-06","q":19420},{"d":"2011-07","q":21070},{"d":"2011-08","q":56610},{"d":"2011-09","q":91730},{"d":"2011-10","q":13220},{"d":"2011-11","q":2890},{"d":"2011-12","q":1100},{"d":"2012-01","q":2890},{"d":"2012-02","q":600},{"d":"2012-03","q":500},{"d":"2012-04","q":450},{"d":"2012-05","q":1000}
    ],
    "gomlai": [
      {"d":"1979-01","q":600},{"d":"1979-02","q":500},{"d":"1979-03","q":400},{"d":"1979-04","q":350},{"d":"1979-05","q":350},{"d":"1979-06","q":1500},{"d":"1979-07","q":7170},{"d":"1979-08","q":12000},{"d":"1979-09","q":5000},{"d":"1979-10","q":2500},{"d":"1979-11","q":1200},{"d":"1979-12","q":800},
      {"d":"1980-01","q":650},{"d":"1980-02","q":550},{"d":"1980-03","q":450},{"d":"1980-04","q":400},{"d":"1980-05","q":380},{"d":"1980-06","q":3000},{"d":"1980-07","q":14760},{"d":"1980-08","q":45230},{"d":"1980-09","q":32820},{"d":"1980-10","q":6000},{"d":"1980-11","q":2200},{"d":"1980-12","q":1200},
      {"d":"1981-01","q":800},{"d":"1981-02","q":650},{"d":"1981-03","q":520},{"d":"1981-04","q":450},{"d":"1981-05","q":420},{"d":"1981-06","q":2000},{"d":"1981-07","q":5520},{"d":"1981-08","q":26890},{"d":"1981-09","q":20690},{"d":"1981-10","q":5000},{"d":"1981-11","q":2000},{"d":"1981-12","q":1100},
      {"d":"1982-01","q":750},{"d":"1982-02","q":600},{"d":"1982-03","q":500},{"d":"1982-04","q":430},{"d":"1982-05","q":400},{"d":"1982-06","q":1500},{"d":"1982-07","q":7580},{"d":"1982-08","q":47580},{"d":"1982-09","q":20410},{"d":"1982-10","q":4000},{"d":"1982-11","q":1800},{"d":"1982-12","q":1000},
      {"d":"1983-01","q":700},{"d":"1983-02","q":580},{"d":"1983-03","q":480},{"d":"1983-04","q":420},{"d":"1983-05","q":400},{"d":"1983-06","q":2000},{"d":"1983-07","q":24820},{"d":"1983-08","q":46470},{"d":"1983-09","q":6900},{"d":"1983-10","q":3500},{"d":"1983-11","q":1600},{"d":"1983-12","q":950},
      {"d":"1984-01","q":680},{"d":"1984-02","q":560},{"d":"1984-03","q":470},{"d":"1984-04","q":410},{"d":"1984-05","q":400},{"d":"1984-06","q":5000},{"d":"1984-07","q":31030},{"d":"1984-08","q":67570},{"d":"1984-09","q":46890},{"d":"1984-10","q":23440},{"d":"1984-11","q":3500},{"d":"1984-12","q":1600},
      {"d":"1985-01","q":1000},{"d":"1985-02","q":780},{"d":"1985-03","q":620},{"d":"1985-04","q":520},{"d":"1985-05","q":480},{"d":"1985-06","q":3000},{"d":"1985-07","q":28270},{"d":"1985-08","q":38610},{"d":"1985-09","q":25930},{"d":"1985-10","q":5000},{"d":"1985-11","q":2000},{"d":"1985-12","q":1100},
      {"d":"1986-01","q":780},{"d":"1986-02","q":620},{"d":"1986-03","q":510},{"d":"1986-04","q":440},{"d":"1986-05","q":420},{"d":"1986-06","q":2500},{"d":"1986-07","q":14070},{"d":"1986-08","q":39300},{"d":"1986-09","q":28540},{"d":"1986-10","q":4500},{"d":"1986-11","q":1900},{"d":"1986-12","q":1050},
      {"d":"1987-01","q":760},{"d":"1987-02","q":610},{"d":"1987-03","q":500},{"d":"1987-04","q":430},{"d":"1987-05","q":410},{"d":"1987-06","q":4140},{"d":"1987-07","q":33100},{"d":"1987-08","q":39990},{"d":"1987-09","q":36820},{"d":"1987-10","q":6000},{"d":"1987-11","q":2300},{"d":"1987-12","q":1200},
      {"d":"1988-01","q":820},{"d":"1988-02","q":650},{"d":"1988-03","q":530},{"d":"1988-04","q":460},{"d":"1988-05","q":430},{"d":"1988-06","q":3000},{"d":"1988-07","q":20410},{"d":"1988-08","q":49920},{"d":"1988-09","q":35440},{"d":"1988-10","q":13790},{"d":"1988-11","q":3000},{"d":"1988-12","q":1400},
      {"d":"1989-01","q":900},{"d":"1989-02","q":700},{"d":"1989-03","q":560},{"d":"1989-04","q":480},{"d":"1989-05","q":450},{"d":"1989-06","q":2500},{"d":"1989-07","q":18620},{"d":"1989-08","q":30060},{"d":"1989-09","q":12000},{"d":"1989-10","q":4000},{"d":"1989-11","q":1800},{"d":"1989-12","q":1000},
      {"d":"1990-01","q":720},{"d":"1990-02","q":580},{"d":"1990-03","q":480},{"d":"1990-04","q":420},{"d":"1990-05","q":400},{"d":"1990-06","q":3000},{"d":"1990-07","q":22060},{"d":"1990-08","q":46890},{"d":"1990-09","q":30340},{"d":"1990-10","q":6000},{"d":"1990-11","q":2300},{"d":"1990-12","q":1200},
      {"d":"1991-01","q":820},{"d":"1991-02","q":650},{"d":"1991-03","q":530},{"d":"1991-04","q":460},{"d":"1991-05","q":430},{"d":"1991-06","q":3450},{"d":"1991-07","q":20690},{"d":"1991-08","q":56950},{"d":"1991-09","q":43710},{"d":"1991-10","q":7000},{"d":"1991-11","q":2600},{"d":"1991-12","q":1300},
      {"d":"1992-01","q":880},{"d":"1992-02","q":690},{"d":"1992-03","q":560},{"d":"1992-04","q":480},{"d":"1992-05","q":450},{"d":"1992-06","q":2000},{"d":"1992-07","q":13790},{"d":"1992-08","q":25510},{"d":"1992-09","q":9000},{"d":"1992-10","q":3500},{"d":"1992-11","q":1600},{"d":"1992-12","q":950},
      {"d":"1993-01","q":700},{"d":"1993-02","q":570},{"d":"1993-03","q":470},{"d":"1993-04","q":410},{"d":"1993-05","q":400},{"d":"1993-06","q":2500},{"d":"1993-07","q":15860},{"d":"1993-08","q":34200},{"d":"1993-09","q":12000},{"d":"1993-10","q":4000},{"d":"1993-11","q":1800},{"d":"1993-12","q":1000},
      {"d":"1994-01","q":720},{"d":"1994-02","q":580},{"d":"1994-03","q":480},{"d":"1994-04","q":420},{"d":"1994-05","q":400},{"d":"1994-06","q":4000},{"d":"1994-07","q":45510},{"d":"1994-08","q":86880},{"d":"1994-09","q":80670},{"d":"1994-10","q":31720},{"d":"1994-11","q":5000},{"d":"1994-12","q":2200},
      {"d":"1995-01","q":1300},{"d":"1995-02","q":950},{"d":"1995-03","q":720},{"d":"1995-04","q":600},{"d":"1995-05","q":550},{"d":"1995-06","q":3000},{"d":"1995-07","q":22060},{"d":"1995-08","q":35160},{"d":"1995-09","q":15000},{"d":"1995-10","q":5000},{"d":"1995-11","q":2000},{"d":"1995-12","q":1100},
      {"d":"1996-01","q":780},{"d":"1996-02","q":620},{"d":"1996-03","q":510},{"d":"1996-04","q":440},{"d":"1996-05","q":420},{"d":"1996-06","q":3000},{"d":"1996-07","q":21650},{"d":"1996-08","q":55440},{"d":"1996-09","q":43710},{"d":"1996-10","q":17510},{"d":"1996-11","q":3500},{"d":"1996-12","q":1600},
      {"d":"1997-01","q":1000},{"d":"1997-02","q":780},{"d":"1997-03","q":620},{"d":"1997-04","q":520},{"d":"1997-05","q":480},{"d":"1997-06","q":3500},{"d":"1997-07","q":31300},{"d":"1997-08","q":59300},{"d":"1997-09","q":37510},{"d":"1997-10","q":8000},{"d":"1997-11","q":2800},{"d":"1997-12","q":1400},
      {"d":"1998-01","q":920},{"d":"1998-02","q":720},{"d":"1998-03","q":580},{"d":"1998-04","q":490},{"d":"1998-05","q":460},{"d":"1998-06","q":2500},{"d":"1998-07","q":17240},{"d":"1998-08","q":44400},{"d":"1998-09","q":20000},{"d":"1998-10","q":5000},{"d":"1998-11","q":2000},{"d":"1998-12","q":1100},
      {"d":"1999-01","q":780},{"d":"1999-02","q":620},{"d":"1999-03","q":510},{"d":"1999-04","q":440},{"d":"1999-05","q":420},{"d":"1999-06","q":3500},{"d":"1999-07","q":27580},{"d":"1999-08","q":49230},{"d":"1999-09","q":56120},{"d":"1999-10","q":9000},{"d":"1999-11","q":3000},{"d":"1999-12","q":1500},
      {"d":"2000-01","q":980},{"d":"2000-02","q":760},{"d":"2000-03","q":600},{"d":"2000-04","q":510},{"d":"2000-05","q":470},{"d":"2000-06","q":2500},{"d":"2000-07","q":17510},{"d":"2000-08","q":29370},{"d":"2000-09","q":22750},{"d":"2000-10","q":5000},{"d":"2000-11","q":2000},{"d":"2000-12","q":1100},
      {"d":"2001-01","q":780},{"d":"2001-02","q":620},{"d":"2001-03","q":510},{"d":"2001-04","q":440},{"d":"2001-05","q":420},{"d":"2001-06","q":4000},{"d":"2001-07","q":27990},{"d":"2001-08","q":88670},{"d":"2001-09","q":44820},{"d":"2001-10","q":8000},{"d":"2001-11","q":2800},{"d":"2001-12","q":1400},
      {"d":"2002-01","q":920},{"d":"2002-02","q":720},{"d":"2002-03","q":580},{"d":"2002-04","q":490},{"d":"2002-05","q":460},{"d":"2002-06","q":2500},{"d":"2002-07","q":26610},{"d":"2002-08","q":35160},{"d":"2002-09","q":10000},{"d":"2002-10","q":4000},{"d":"2002-11","q":1800},{"d":"2002-12","q":1000},
      {"d":"2003-01","q":720},{"d":"2003-02","q":580},{"d":"2003-03","q":480},{"d":"2003-04","q":420},{"d":"2003-05","q":400},{"d":"2003-06","q":2500},{"d":"2003-07","q":12410},{"d":"2003-08","q":32130},{"d":"2003-09","q":36270},{"d":"2003-10","q":7000},{"d":"2003-11","q":2500},{"d":"2003-12","q":1250},
      {"d":"2004-01","q":850},{"d":"2004-02","q":670},{"d":"2004-03","q":540},{"d":"2004-04","q":470},{"d":"2004-05","q":440},{"d":"2004-06","q":3000},{"d":"2004-07","q":20690},{"d":"2004-08","q":44820},{"d":"2004-09","q":15000},{"d":"2004-10","q":5000},{"d":"2004-11","q":2000},{"d":"2004-12","q":1100},
      {"d":"2005-01","q":780},{"d":"2005-02","q":620},{"d":"2005-03","q":510},{"d":"2005-04","q":440},{"d":"2005-05","q":420},{"d":"2005-06","q":2000},{"d":"2005-07","q":12410},{"d":"2005-08","q":23720},{"d":"2005-09","q":21100},{"d":"2005-10","q":4000},{"d":"2005-11","q":1800},{"d":"2005-12","q":1000},
      {"d":"2006-01","q":720},{"d":"2006-02","q":580},{"d":"2006-03","q":480},{"d":"2006-04","q":420},{"d":"2006-05","q":400},{"d":"2006-06","q":3000},{"d":"2006-07","q":21100},{"d":"2006-08","q":56260},{"d":"2006-09","q":31720},{"d":"2006-10","q":7000},{"d":"2006-11","q":2500},{"d":"2006-12","q":1250},
      {"d":"2007-01","q":850},{"d":"2007-02","q":670},{"d":"2007-03","q":540},{"d":"2007-04","q":470},{"d":"2007-05","q":440},{"d":"2007-06","q":4000},{"d":"2007-07","q":31030},{"d":"2007-08","q":78330},{"d":"2007-09","q":44820},{"d":"2007-10","q":9000},{"d":"2007-11","q":3000},{"d":"2007-12","q":1500},
      {"d":"2008-01","q":980},{"d":"2008-02","q":760},{"d":"2008-03","q":600},{"d":"2008-04","q":510},{"d":"2008-05","q":470},{"d":"2008-06","q":3500},{"d":"2008-07","q":26890},{"d":"2008-08","q":55580},{"d":"2008-09","q":39580},{"d":"2008-10","q":8000},{"d":"2008-11","q":2800},{"d":"2008-12","q":1400},
      {"d":"2009-01","q":920},{"d":"2009-02","q":720},{"d":"2009-03","q":580},{"d":"2009-04","q":490},{"d":"2009-05","q":460},{"d":"2009-06","q":2000},{"d":"2009-07","q":19310},{"d":"2009-08","q":21790},{"d":"2009-09","q":9000},{"d":"2009-10","q":3500},{"d":"2009-11","q":1600},{"d":"2009-12","q":950},
      {"d":"2010-01","q":700},{"d":"2010-02","q":570},{"d":"2010-03","q":470},{"d":"2010-04","q":410},{"d":"2010-05","q":400},{"d":"2010-06","q":1500},{"d":"2010-07","q":8960},{"d":"2010-08","q":13510},{"d":"2010-09","q":6000},{"d":"2010-10","q":2500},{"d":"2010-11","q":1300},{"d":"2010-12","q":850},
      {"d":"2011-01","q":650},{"d":"2011-02","q":530},{"d":"2011-03","q":450},{"d":"2011-04","q":400},{"d":"2011-05","q":380},{"d":"2011-06","q":3500},{"d":"2011-07","q":15170},{"d":"2011-08","q":42060},{"d":"2011-09","q":85080},{"d":"2011-10","q":9000},{"d":"2011-11","q":3000},{"d":"2011-12","q":1500},
      {"d":"2012-01","q":1000},{"d":"2012-02","q":780},{"d":"2012-03","q":620},{"d":"2012-04","q":520},{"d":"2012-05","q":480}
    ]
  },
  "vconcat": [
    {
      "spacing": 2,
      "hconcat": [
        {
          "width": 617, "height": 553,
          "title": {"text": "Tilga(01.06.1979-01.05.2012)", "offset": -57},
          "data": {"name": "tilga"},
          "mark": {"type": "bar", "color": "#9bbb59"},
          "encoding": {
            "x": {"field": "d", "type": "ordinal", "sort": "ascending",
                  "scale": {"range": [165.3, 588], "paddingInner": 0.5, "paddingOuter": 0.25},
                  "axis": {"title": "Year", "offset": -218.7, "values": ["1979-06","1982-10","1986-02","1989-06","1992-10","1996-02","1999-06","2002-10","2006-02","2009-06"], "labelExpr": "'01/' + substring(datum.value, 5, 7) + '/' + substring(datum.value, 0, 4)"}},
            "y": {"field": "q", "type": "quantitative",
                  "scale": {"domain": [0, 16000], "range": [334.3, 91], "nice": false, "zero": true},
                  "axis": {"title": "Discharge(m3/sec)", "offset": -165.3, "values": [0,2000,4000,6000,8000,10000,12000,14000,16000]}}
          }
        },
        {
          "width": 617, "height": 553,
          "title": {"text": "Jaraikela(01.08.1972-01.05.2012)", "offset": -57},
          "data": {"name": "jaraikela"},
          "mark": {"type": "bar", "color": "#8064a2"},
          "encoding": {
            "x": {"field": "d", "type": "ordinal", "sort": "ascending",
                  "scale": {"range": [166.3, 588.7], "paddingInner": 0.5, "paddingOuter": 0.25},
                  "axis": {"title": "Year", "offset": -218.7, "values": ["1972-08","1976-08","1980-08","1984-08","1988-08","1992-08","1996-08","2000-08","2004-08","2008-08"], "labelExpr": "'01/' + substring(datum.value, 5, 7) + '/' + substring(datum.value, 0, 4)"}},
            "y": {"field": "q", "type": "quantitative",
                  "scale": {"domain": [0, 45000], "range": [334.3, 91], "nice": false, "zero": true},
                  "axis": {"title": "Discharge(m3/sec)", "offset": -166.3, "values": [0,5000,10000,15000,20000,25000,30000,35000,40000,45000]}}
          }
        }
      ]
    },
    {
      "spacing": 3,
      "hconcat": [
        {
          "width": 611, "height": 548,
          "title": {"text": "Panpose(01.06.1996-01.05.2012)", "offset": -55},
          "data": {"name": "panpose"},
          "mark": {"type": "bar", "color": "#4f81bd"},
          "encoding": {
            "x": {"field": "d", "type": "ordinal", "sort": "ascending",
                  "scale": {"range": [179.3, 581.3], "paddingInner": 0.6, "paddingOuter": 0.3},
                  "axis": {"title": "Year", "offset": -215.3, "values": ["1996-06","1998-02","1999-10","2001-06","2003-02","2004-10","2006-06","2008-02","2009-10","2011-06"], "labelExpr": "'01/' + substring(datum.value, 5, 7) + '/' + substring(datum.value, 0, 4)"}},
            "y": {"field": "q", "type": "quantitative",
                  "scale": {"domain": [0, 100000], "range": [332.7, 91], "nice": false, "zero": true},
                  "axis": {"title": "Discharge(m3/sec)", "offset": -179.3, "labelFontSize": 24, "labelPadding": 8, "titlePadding": 5, "values": [0,10000,20000,30000,40000,50000,60000,70000,80000,90000,100000]}}
          }
        },
        {
          "width": 615, "height": 548,
          "title": {"text": "Gomlai(01.01.1979-01.05.2012)", "offset": -55},
          "data": {"name": "gomlai"},
          "mark": {"type": "bar", "color": "#4f81bd"},
          "encoding": {
            "x": {"field": "d", "type": "ordinal", "sort": "ascending",
                  "scale": {"range": [181.3, 583], "paddingInner": 0.5, "paddingOuter": 0.25},
                  "axis": {"title": "Year", "offset": -215.3, "values": ["1979-01","1982-06","1985-11","1989-04","1992-09","1996-02","1999-07","2002-12","2006-05","2009-10"], "labelExpr": "'01/' + substring(datum.value, 5, 7) + '/' + substring(datum.value, 0, 4)"}},
            "y": {"field": "q", "type": "quantitative",
                  "scale": {"domain": [0, 100000], "range": [332.7, 91], "nice": false, "zero": true},
                  "axis": {"title": "Discharge(m3/sec)", "offset": -181.3, "labelFontSize": 24, "labelPadding": 8, "titlePadding": 5, "values": [0,10000,20000,30000,40000,50000,60000,70000,80000,90000,100000]}}
          }
        }
      ]
    }
  ]
}
